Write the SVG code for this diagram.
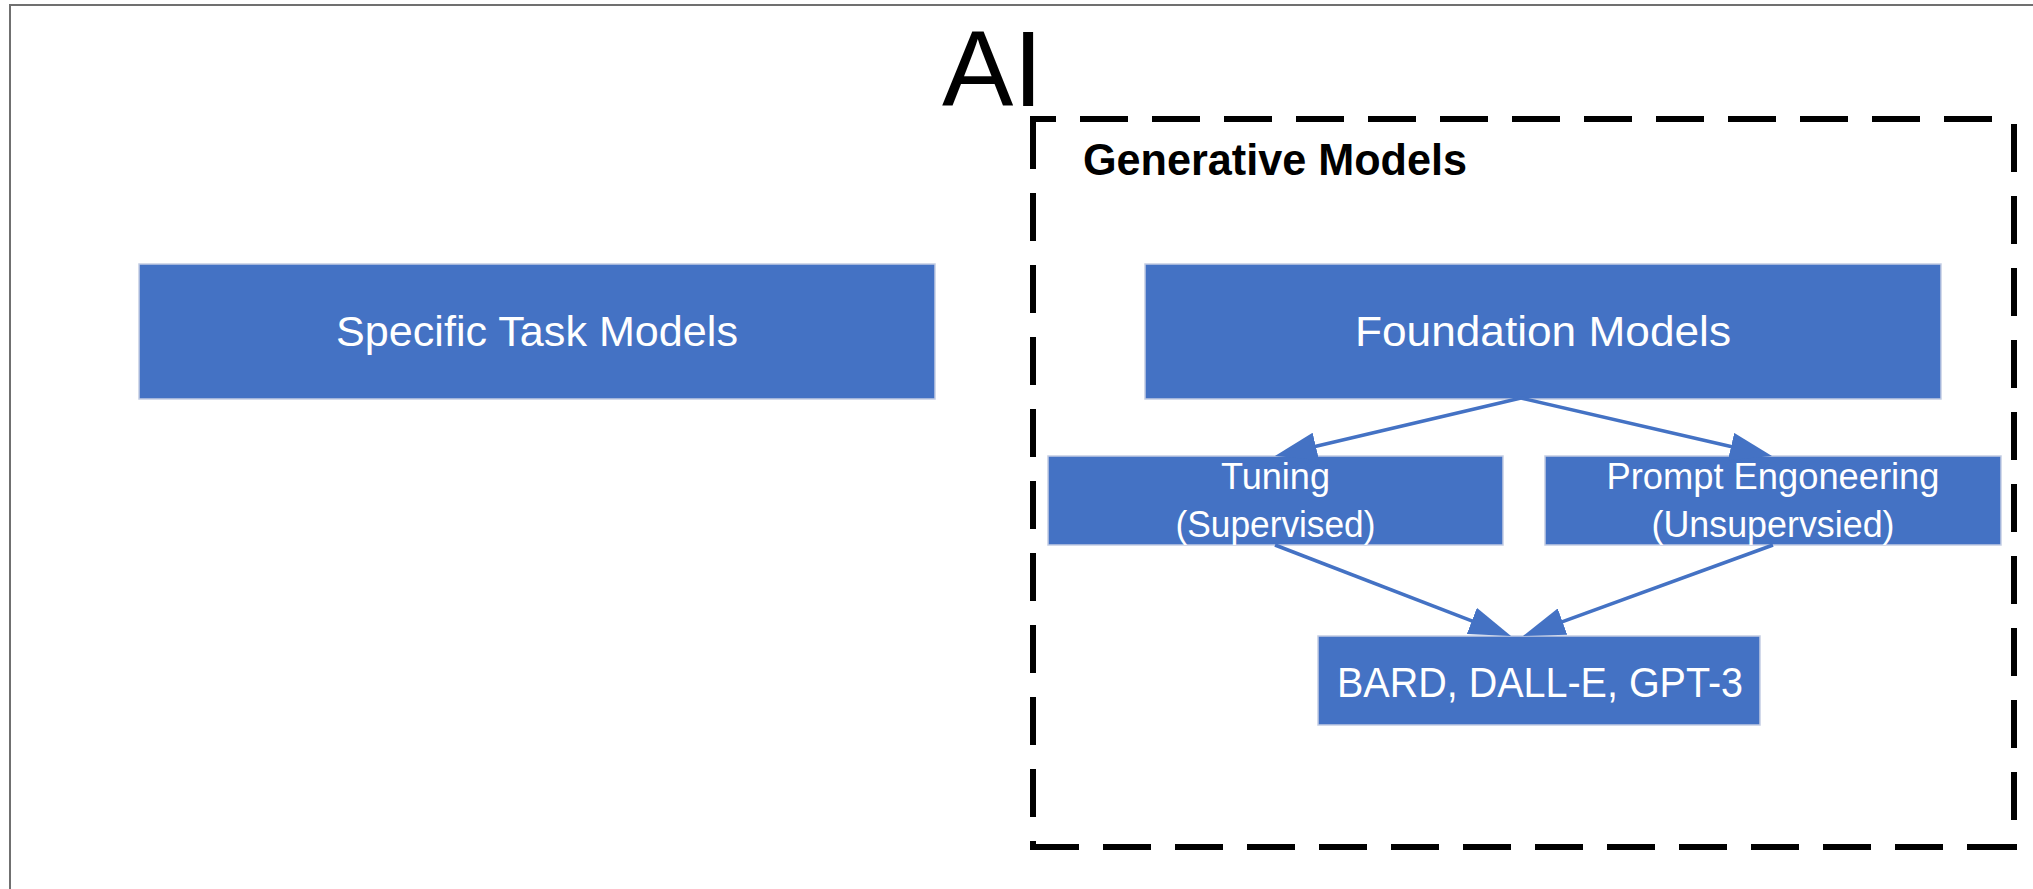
<svg xmlns="http://www.w3.org/2000/svg" width="2033" height="889" viewBox="0 0 2033 889">
  <style>
    .box { fill: #4472C4; stroke: #c3cde3; stroke-width: 1.5; }
    .lbl { font-family: "Liberation Sans", Arial, sans-serif; fill: #ffffff; text-anchor: middle; }
    .big { font-size: 43px; }
    .small { font-size: 36px; }
    .frame { fill: none; stroke: #000000; stroke-width: 6; stroke-dasharray: 48 24; }
    .conn { fill: none; stroke: #4472C4; stroke-width: 3.5; }
  </style>
  <defs>
    <marker id="arrow" viewBox="0 -14 42 28" markerUnits="userSpaceOnUse" markerWidth="42" markerHeight="28" refX="2" refY="0" orient="auto">
      <path d="M0,-14 L42,0 L0,14 Z" fill="#4472C4"/>
    </marker>
  </defs>

  <rect x="0" y="0" width="2033" height="889" fill="#ffffff"/>

  <!-- outer page frame -->
  <rect x="10" y="5" width="2200" height="1000" fill="none" stroke="#707070" stroke-width="2"/>

  <!-- title -->
  <text x="942" y="106" font-family="Liberation Sans, Arial, sans-serif" font-size="107" fill="#000000">AI</text>

  <!-- generative models group frame, one path per side -->
  <g id="generative-models">
    <path class="frame" d="M1030,119 H2014" stroke-dashoffset="22"/>
    <path class="frame" d="M2014,116 V850" stroke-dashoffset="64"/>
    <path class="frame" d="M2017,847 H1030" stroke-dashoffset="70"/>
    <path class="frame" d="M1033,850 V116" stroke-dashoffset="39"/>
    <text x="1083" y="175" font-family="Liberation Sans, Arial, sans-serif" font-weight="bold" font-size="44" fill="#000000" textLength="384" lengthAdjust="spacingAndGlyphs">Generative Models</text>
  </g>

  <g id="specific-task-models">
    <rect class="box" x="139" y="264" width="796" height="135"/>
    <text class="lbl big" x="537" y="346" textLength="402" lengthAdjust="spacingAndGlyphs">Specific Task Models</text>
  </g>

  <g id="foundation-models">
    <rect class="box" x="1145" y="264" width="796" height="135"/>
    <text class="lbl big" x="1543" y="346" textLength="376" lengthAdjust="spacingAndGlyphs">Foundation Models</text>
  </g>

  <g id="tuning">
    <rect class="box" x="1048" y="456" width="455" height="89"/>
    <text class="lbl small" x="1275.5" y="489" textLength="109" lengthAdjust="spacingAndGlyphs">Tuning</text>
    <text class="lbl small" x="1275.5" y="537" textLength="200" lengthAdjust="spacingAndGlyphs">(Supervised)</text>
  </g>

  <g id="prompt-engineering">
    <rect class="box" x="1545" y="456" width="456" height="89"/>
    <text class="lbl small" x="1773" y="489" textLength="333" lengthAdjust="spacingAndGlyphs">Prompt Engoneering</text>
    <text class="lbl small" x="1773" y="537" textLength="243" lengthAdjust="spacingAndGlyphs">(Unsupervsied)</text>
  </g>

  <g id="products">
    <rect class="box" x="1318" y="636" width="442" height="89"/>
    <text class="lbl" font-size="42" x="1540" y="697" textLength="406" lengthAdjust="spacingAndGlyphs">BARD, DALL-E, GPT-3</text>
  </g>

  <!-- connectors -->
  <g id="connectors">
    <line class="conn" x1="1521" y1="398" x2="1313.9" y2="446.8" marker-end="url(#arrow)"/>
    <line class="conn" x1="1521" y1="398" x2="1733" y2="447" marker-end="url(#arrow)"/>
    <line class="conn" x1="1275" y1="545" x2="1473.7" y2="621.6" marker-end="url(#arrow)"/>
    <line class="conn" x1="1773" y1="545" x2="1560.6" y2="622.3" marker-end="url(#arrow)"/>
  </g>
</svg>
